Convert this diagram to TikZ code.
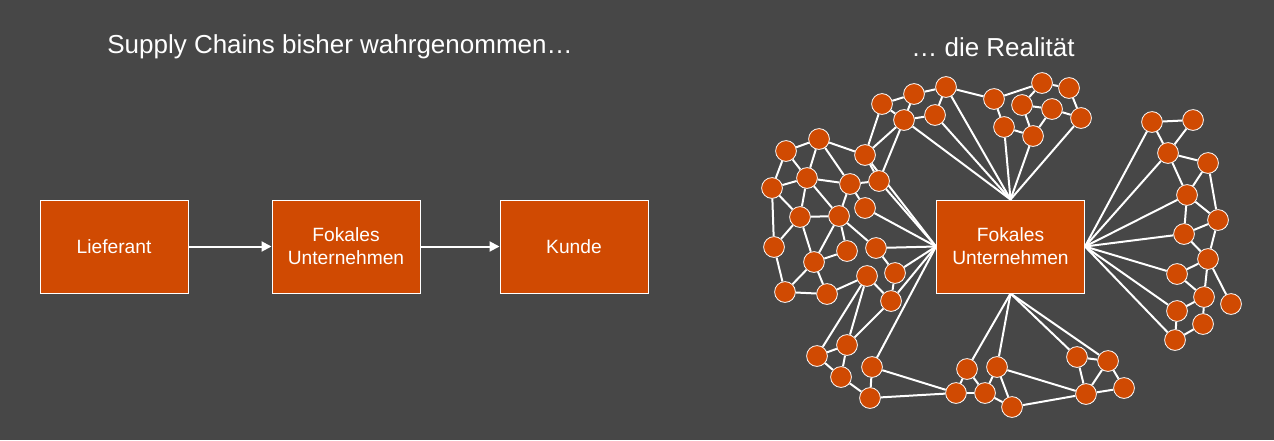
\documentclass[tikz,border=0pt]{standalone}
\usepackage{fontspec}
\setmainfont{Liberation Sans}
\usetikzlibrary{arrows.meta,backgrounds,positioning}
\definecolor{bggray}{HTML}{474747}
\definecolor{pwcorange}{HTML}{D04A02}

\begin{document}
\begin{tikzpicture}[x=0.5pt,y=-0.5pt,
  box/.style={draw=white,line width=0.5pt,fill=pwcorange,text=white,minimum width=74pt,
    minimum height=46.5pt,align=center,font=\fontsize{9.6}{11.5}\selectfont},
  dot/.style={circle,draw=white,line width=0.4pt,fill=pwcorange,minimum size=10.4pt,inner sep=0pt},
  link/.style={draw=white,line width=1pt},
  flow/.style={draw=white,line width=1pt,-{Triangle[length=5pt,width=5pt]}},
  title/.style={text=white,font=\fontsize{13}{15}\selectfont}]
  \useasboundingbox (0,0) rectangle (1274,440);

  %Draw titles
  \node[title] (tleft) at (340,47) {Supply Chains bisher wahrgenommen…};
  \node[title] (tright) at (993,47) {… die Realität};

  %Draw chain as seen so far
  \node[box] (lief) at (114,246.5) {Lieferant};
  \node[box,right=41.5pt of lief] (fokl) {Fokales\\Unternehmen};
  \node[box,right=39.5pt of fokl] (kunde) {Kunde};
  \draw[flow] (lief) -- (fokl);
  \draw[flow] (fokl) -- (kunde);

  %Draw focal company of the network
  \node[box] (fokr) at (1010.5,246.5) {Fokales\\Unternehmen};

  %Draw partners (left, top, right, bottom)
  \foreach \n/\x/\y in {l1/786/151, l2/819/139, l3/865/155, l4/807/178, l5/850/184,
      l6/879/181, l7/772/188, l8/865/208, l9/800/217, l10/839/216, l11/774/247,
      l12/847/251, l13/876/248, l14/814/262, l15/867/276, l16/895/273, l17/785/292,
      l18/827/294, l19/891/301}
    \node[dot] (\n) at (\x,\y) {};
  \foreach \n/\x/\y in {t1/882/104, t2/914/94, t3/946/87, t4/904/120, t5/935/115,
      t6/994/99, t7/1042/83, t8/1069/88, t9/1022/105, t10/1052/109, t11/1081/118,
      t12/1004/127, t13/1033/136}
    \node[dot] (\n) at (\x,\y) {};
  \foreach \n/\x/\y in {r1/1152/122, r2/1193/120, r3/1168/153, r4/1208/163, r5/1187/195,
      r6/1218/220, r7/1184/234, r8/1208/259, r9/1177/274, r10/1204/297, r11/1231/304,
      r12/1177/311, r13/1203/324, r14/1175/340}
    \node[dot] (\n) at (\x,\y) {};
  \foreach \n/\x/\y in {b1/847/345, b2/817/356, b3/841/377, b4/872/367, b5/870/398,
      b6/967/369, b7/997/367, b8/956/393, b9/985/393, b10/1012/407, b11/1077/357,
      b12/1108/361, b13/1086/394, b14/1124/388}
    \node[dot] (\n) at (\x,\y) {};

  %Draw background and links behind the partners
  \begin{scope}[on background layer]
    \fill[bggray] (0,0) rectangle (1274,440);
    \foreach \a/\b in {l1/l2, l1/l7, l1/l4, l2/l4, l2/l3, l2/l5, l3/t1, l3/t4, l3/l6,
        l5/l6, l4/l5, l4/l7, l4/l9, l4/l10, l7/l9, l7/l11, l9/l10, l5/l10, l5/l8,
        l9/l11, l9/l14, l10/l14, l10/l12, l10/l13, l11/l17, l14/l12, l14/l17, l14/l18,
        l17/l18, l18/l15, l13/l16, l16/l19, l15/l19, t4/l6}
      \draw[link] (\a) -- (\b);
    \foreach \a/\b in {t1/t2, t2/t3, t1/t4, t2/t4, t4/t5, t3/t5, t3/t6, t6/t12, t6/t7,
        t7/t9, t7/t8, t8/t11, t9/t10, t9/t13, t10/t13, t10/t11, t12/t13}
      \draw[link] (\a) -- (\b);
    \foreach \a/\b in {r1/r2, r1/r3, r2/r3, r3/r4, r3/r5, r4/r5, r4/r6, r5/r6, r5/r7,
        r7/r6, r7/r8, r6/r8, r8/r9, r8/r10, r8/r11, r9/r10, r10/r12, r10/r13,
        r12/r14, r14/r13}
      \draw[link] (\a) -- (\b);
    \foreach \a/\b in {l15/b2, l15/b1, l19/b1, b2/b1, b2/b3, b1/b3, b3/b5, b4/b5,
        b4/b8, b5/b8, b6/b8, b6/b9, b7/b9, b8/b9, b9/b10, b7/b10, b10/b13, b7/b13,
        b11/b12, b11/b13, b12/b13, b12/b14, b13/b14}
      \draw[link] (\a) -- (\b);
    %Links to the focal company
    \foreach \b in {l3,l6,l8,l13,l16,l19,b4} \draw[link] (fokr.west) -- (\b);
    \foreach \b in {t3,t4,t5,t11,t12,t13} \draw[link] (fokr.north) -- (\b);
    \foreach \b in {r1,r3,r5,r7,r9,r12,r14} \draw[link] (fokr.east) -- (\b);
    \foreach \b in {b6,b7,b11,b12} \draw[link] (fokr.south) -- (\b);
  \end{scope}
\end{tikzpicture}
\end{document}
